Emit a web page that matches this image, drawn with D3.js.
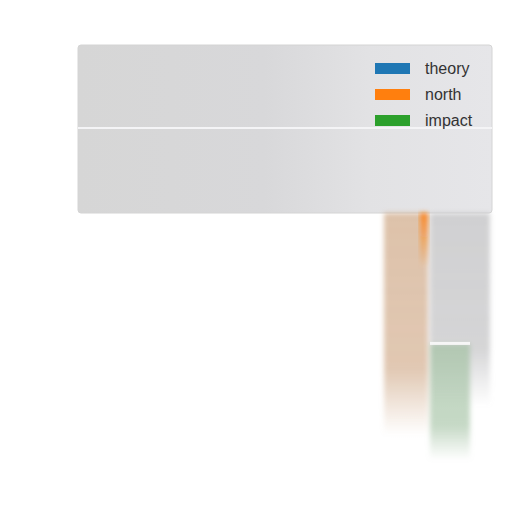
<!DOCTYPE html>
<html>
<head>
<meta charset="utf-8">
<script src="https://cdn.jsdelivr.net/npm/d3@7"></script>
<style>
  html, body { margin: 0; padding: 0; background: #fff; }
  svg { display: block; }
</style>
</head>
<body>
<svg id="chart" width="512" height="512"></svg>
<script>
// series shown in the legend, in order
const series = ["theory", "north", "impact"]
const seriesColors = ["#1f77b4", "#ff7f0e", "#2ca02c"]

// bar extents (start, end), in value units (0 at panel bottom)
const barStart = [0, 0, 5.3]
const barEnd = [7.8, 9.0, 10]
// bar fills as they appear (washed out)
const barFills = ["#c8c8ca", "#cfa886", "#a4c2a4"]

const svg = d3.select("#chart")
const defs = svg.append("defs")

const panel = { x0: 78, x1: 492, y0: 45, y1: 213 }

// soft blur to match the smeared look
defs.append("filter").attr("id", "soft")
  .attr("x", "-20%").attr("y", "-20%").attr("width", "140%").attr("height", "140%")
  .append("feGaussianBlur").attr("stdDeviation", 2.5)

const grad = defs.append("linearGradient").attr("id", "panelGrad")
  .attr("x1", "0%").attr("x2", "100%").attr("y1", "0%").attr("y2", "0%")
grad.append("stop").attr("offset", "0%").attr("stop-color", "#d6d6d6")
grad.append("stop").attr("offset", "45%").attr("stop-color", "#d8d8da")
grad.append("stop").attr("offset", "70%").attr("stop-color", "#e2e2e4")
grad.append("stop").attr("offset", "100%").attr("stop-color", "#e6e6e9")

const barGrad = defs.append("linearGradient").attr("id", "fadeDown")
  .attr("x1", "0%").attr("x2", "0%").attr("y1", "0%").attr("y2", "100%")
barGrad.append("stop").attr("offset", "0%").attr("stop-color", "#fff").attr("stop-opacity", 1)
barGrad.append("stop").attr("offset", "70%").attr("stop-color", "#fff").attr("stop-opacity", 0.9)
barGrad.append("stop").attr("offset", "100%").attr("stop-color", "#fff").attr("stop-opacity", 0)
defs.append("mask").attr("id", "fadeMask").attr("maskContentUnits", "objectBoundingBox")
  .append("rect").attr("width", 1).attr("height", 1).attr("fill", "url(#fadeDown)")

const edgeGrad = defs.append("linearGradient").attr("id", "edgeGrad")
  .attr("x1", "0%").attr("x2", "0%").attr("y1", "0%").attr("y2", "100%")
edgeGrad.append("stop").attr("offset", "0%").attr("stop-color", seriesColors[1]).attr("stop-opacity", 0.85)
edgeGrad.append("stop").attr("offset", "100%").attr("stop-color", seriesColors[1]).attr("stop-opacity", 0)

// scales
const y = d3.scaleLinear().domain([0, 10]).range([panel.y1, 460])

// panel
svg.append("rect")
  .attr("x", panel.x0).attr("y", panel.y0)
  .attr("width", panel.x1 - panel.x0).attr("height", panel.y1 - panel.y0)
  .attr("rx", 3)
  .attr("fill", "url(#panelGrad)")
  .attr("stroke", "#d4d4d4")
svg.append("line")
  .attr("x1", panel.x0).attr("x2", panel.x1)
  .attr("y1", 128).attr("y2", 128)
  .attr("stroke", "#f4f4f6").attr("stroke-width", 2)

// bars: north on the left, theory column on the right with impact inside it
const barX = (i) => i === 1 ? 384 : 430
const barW = (i) => i === 1 ? 44 : (i === 0 ? 60 : 40)

svg.append("g").attr("filter", "url(#soft)")
  .selectAll("rect")
  .data(series)
  .join("rect")
  .attr("x", (d, i) => barX(i))
  .attr("y", (d, i) => y(barStart[i]))
  .attr("width", (d, i) => barW(i))
  .attr("height", (d, i) => y(barEnd[i]) - y(barStart[i]))
  .attr("fill", (d, i) => barFills[i])
  .attr("opacity", (d, i) => i === 0 ? 0.85 : 0.7)
  .attr("mask", "url(#fadeMask)")

// bright orange edge at the top right of the north bar
svg.append("rect")
  .attr("x", 420).attr("y", y(0))
  .attr("width", 8).attr("height", y(2.2) - y(0))
  .attr("fill", "url(#edgeGrad)")
  .attr("filter", "url(#soft)")

// white rim at top of impact bar
svg.append("rect")
  .attr("x", 430).attr("y", y(barStart[2]) - 2)
  .attr("width", 40).attr("height", 3)
  .attr("fill", "#f6f6f6")

// legend
const ly = d3.scaleBand().domain(series).range([55, 133])
const legend = svg.append("g")
legend.selectAll("rect")
  .data(series)
  .join("rect")
  .attr("x", 375)
  .attr("y", (d) => ly(d) + ly.bandwidth() / 2 - 5)
  .attr("width", 35).attr("height", 11)
  .attr("fill", (d, i) => seriesColors[i])
legend.selectAll("text")
  .data(series)
  .join("text")
  .attr("x", 425)
  .attr("y", (d) => ly(d) + ly.bandwidth() / 2 + 5.5)
  .attr("font-family", "Liberation Sans, Arial, sans-serif")
  .attr("font-size", 16)
  .attr("fill", "#333")
  .text((d) => d)
</script>
</body>
</html>
